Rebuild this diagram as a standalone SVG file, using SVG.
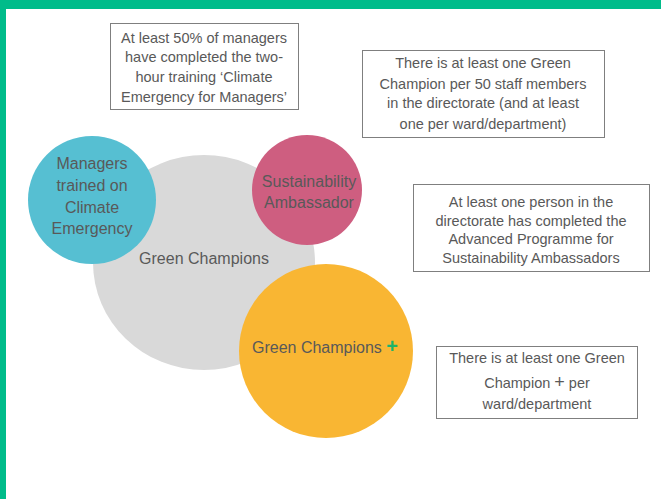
<svg xmlns="http://www.w3.org/2000/svg" width="661" height="499" viewBox="0 0 661 499">
<style>
.t{font-family:"Liberation Sans",Arial,sans-serif;fill:#595959;text-anchor:middle}
.bt{font-size:14.5px}
.ct{font-size:16px}
.box{fill:#fff;stroke:#7f7f7f;stroke-width:1}
.plus{fill:#1DB36B;font-weight:bold}
</style>
<rect x="0" y="0" width="661" height="499" fill="#fff"/>
<rect x="0" y="0" width="661" height="9" fill="#00BC8A"/>
<rect x="0" y="0" width="6" height="499" fill="#00BC8A"/>
<g id="green-champions">
<ellipse cx="204" cy="262.5" rx="111" ry="107.5" fill="#D9D9D9"/>
<text class="t ct" x="204" y="264">Green Champions</text>
</g>
<g id="managers">
<circle cx="92" cy="200" r="64" fill="#56BFD2"/>
<text class="t ct" x="92" y="169">Managers</text>
<text class="t ct" x="92" y="191">trained on</text>
<text class="t ct" x="92" y="213">Climate</text>
<text class="t ct" x="92" y="234">Emergency</text>
</g>
<g id="ambassador">
<circle cx="307" cy="190" r="55" fill="#CE5E80"/>
<text class="t ct" x="309" y="187">Sustainability</text>
<text class="t ct" x="309" y="208">Ambassador</text>
</g>
<g id="champions-plus">
<circle cx="326" cy="351" r="87" fill="#F9B633"/>
<text class="t ct" x="252" y="353" style="text-anchor:start">Green Champions <tspan class="plus" font-size="20">+</tspan></text>
</g>
<g id="box1">
<rect class="box" x="110.5" y="23.5" width="188" height="86"/>
<text class="t bt" x="204" y="43">At least 50% of managers</text>
<text class="t bt" x="204" y="62">have completed the two-</text>
<text class="t bt" x="204" y="82">hour training ‘Climate</text>
<text class="t bt" x="204" y="102">Emergency for Managers’</text>
</g>
<g id="box2">
<rect class="box" x="362.5" y="50.5" width="242" height="87"/>
<text class="t bt" x="483" y="68">There is at least one Green</text>
<text class="t bt" x="483" y="89">Champion per 50 staff members</text>
<text class="t bt" x="483" y="108">in the directorate (and at least</text>
<text class="t bt" x="483" y="129">one per ward/department)</text>
</g>
<g id="box3">
<rect class="box" x="413.5" y="184.5" width="236" height="87"/>
<text class="t bt" x="531" y="207">At least one person in the</text>
<text class="t bt" x="531" y="226">directorate has completed the</text>
<text class="t bt" x="531" y="244">Advanced Programme for</text>
<text class="t bt" x="531" y="263">Sustainability Ambassadors</text>
</g>
<g id="box4">
<rect class="box" x="436.5" y="346.5" width="201" height="72"/>
<text class="t bt" x="537" y="363">There is at least one Green</text>
<text class="t bt" x="537" y="388">Champion <tspan font-size="18">+</tspan> per</text>
<text class="t bt" x="537" y="409">ward/department</text>
</g>
<g id="connectors"></g>
</svg>
